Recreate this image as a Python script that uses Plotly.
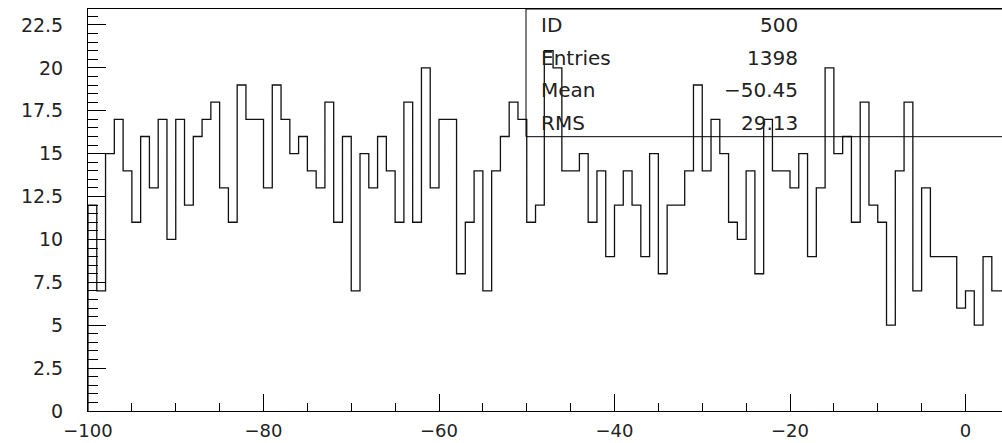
import numpy as np
import plotly.graph_objects as go

# Histogram definition (ID 500): bins of width 1 starting at -100
bin_start = -100
bin_width = 1
counts = [12, 7, 15, 17, 14, 11, 16, 13, 17, 10, 17, 12,
          16, 17, 18, 13, 11, 19, 17, 17, 13, 19, 17, 15, 16, 14,
          13, 18, 11, 16, 7, 15, 13, 16, 14, 11, 18, 11,
          20, 13, 17, 17, 8, 11, 14, 7, 14, 16, 18, 17,
          11, 12, 21, 20, 14, 14, 15, 11, 14, 9, 12, 14, 12, 9,
          15, 8, 12, 12, 14, 19, 14, 17, 15, 11, 10, 14,
          8, 17, 14, 14, 13, 15, 9, 13, 20, 15, 16, 11,
          18, 12, 11, 5, 14, 18, 7, 13, 9, 9, 9, 6, 7, 5, 9, 7, 7]

stat_labels = ["ID", "Entries", "Mean", "RMS"]
stat_values = ["500", "1398", "\u221250.45", "29.13"]

x_range = [-100, 4.16]
y_range = [0, 23.43]

edges = bin_start + bin_width * np.arange(len(counts) + 1)
xs = [edges[0]] + list(edges)
ys = [0] + counts + [counts[-1]]

fig = go.Figure()
fig.add_trace(go.Scatter(x=xs, y=ys, mode="lines", line=dict(shape="hv", color="#111111", width=1.3),
                         hoverinfo="skip", showlegend=False, cliponaxis=True))

FONT = "DejaVu Sans"
fig.update_layout(
    width=1002, height=443,
    margin=dict(l=88, r=0, t=9, b=32, autoexpand=False),
    paper_bgcolor="white", plot_bgcolor="white",
    showlegend=False,
    xaxis=dict(range=x_range, showgrid=False, zeroline=False, automargin=False,
               showline=True, linecolor="black", linewidth=1, mirror=True,
               ticks="inside", ticklen=17, tickcolor="black", tickwidth=1,
               tick0=-100, dtick=20,
               minor=dict(ticks="inside", ticklen=8, dtick=5, tick0=-100, tickcolor="black", showgrid=False),
               tickfont=dict(family=FONT, size=18, color="#222222"),
               ticklabelstandoff=3),
    yaxis=dict(range=y_range, showgrid=False, zeroline=False, automargin=False,
               showline=True, linecolor="black", linewidth=1, mirror=False,
               ticks="inside", ticklen=18, tickcolor="black", tickwidth=1,
               tick0=0, dtick=2.5,
               minor=dict(ticks="inside", ticklen=10, dtick=0.5, tick0=0, tickcolor="black", showgrid=False),
               tickfont=dict(family=FONT, size=19, color="#222222"),
               ticklabelstandoff=20),
)

# Statistics box (page pixels of the plot area: left 88, right 1002, top 9, bottom 411)
PL, PW, PT, PB = 88.0, 914.0, 9.0, 411.0

def px_x(px):
    return (px - PL) / PW

def px_y(py):
    return (PB - py) / (PB - PT)

fig.add_shape(type="rect", xref="paper", yref="paper",
              x0=px_x(526), x1=px_x(1012), y0=px_y(136.7), y1=1,
              line=dict(color="black", width=1), fillcolor="rgba(0,0,0,0)")

row_y = [25, 57.5, 90, 122.5]
for lab, val, ry in zip(stat_labels, stat_values, row_y):
    fig.add_annotation(x=px_x(539), y=px_y(ry), xref="paper", yref="paper", text=lab,
                       showarrow=False, xanchor="left", yanchor="middle",
                       font=dict(family=FONT, size=20, color="#222222"))
    fig.add_annotation(x=px_x(800), y=px_y(ry), xref="paper", yref="paper", text=val,
                       showarrow=False, xanchor="right", yanchor="middle",
                       font=dict(family=FONT, size=20, color="#222222"))

# remove the default 8px page margin so the figure fills the window exactly
fig.write_html("out.html", config={"displayModeBar": False},
               post_script="document.body.style.margin='0';document.body.style.overflow='hidden';")
